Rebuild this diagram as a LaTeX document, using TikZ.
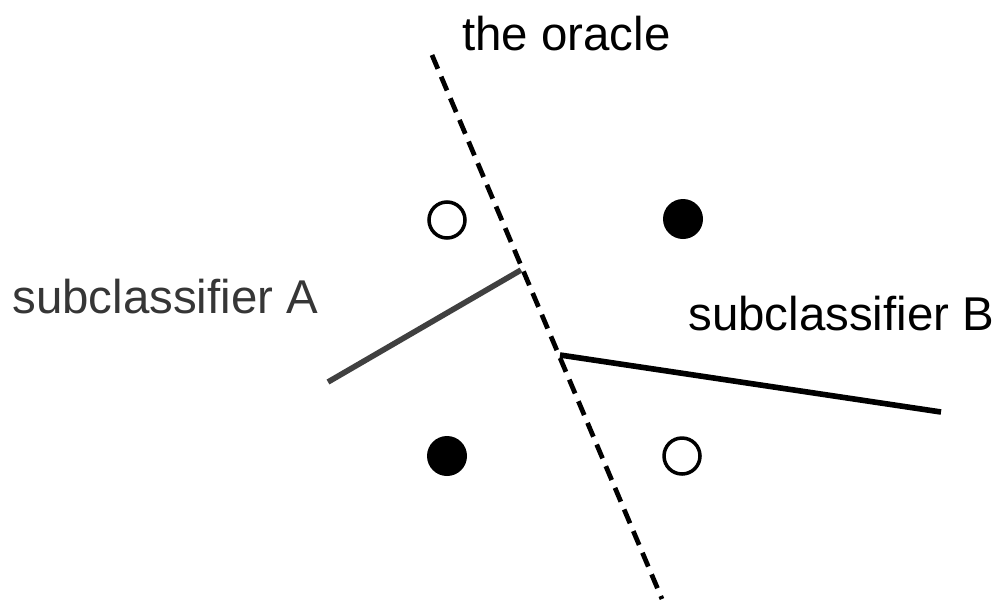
\documentclass[tikz,border=0pt]{standalone}
\usepackage{fontspec}
\setmainfont{Liberation Sans}
\usepackage{tikz}

\definecolor{darkgrey}{HTML}{404040}

\tikzset{
  label text/.style={inner sep=0pt, font=\fontsize{27}{32}\selectfont},
  hollow point/.style={circle, draw, line width=2pt, minimum size=0.72cm, inner sep=0pt},
  solid point/.style={circle, fill, minimum size=0.8cm, inner sep=0pt}
}

\begin{document}
\begin{tikzpicture}[x=0.02cm, y=-0.02cm]
    \useasboundingbox (0,0) rectangle (999,599);
    % the oracle
    \coordinate (oracletop) at (432,55);
    \coordinate (oraclebot) at (662,599);
    \draw[line width=2.7pt, dash pattern=on 0.3cm off 0.17cm] (oracletop) -- (oraclebot);
    \node[label text, anchor=base west] (oracle) at (462,50) {the oracle};
    % subclassifiers
    \coordinate (aend) at (328,382);
    \coordinate (ajoin) at (521,270);
    \draw[darkgrey, line width=3.2pt] (aend) -- (ajoin);
    \node[label text, anchor=base west, text=darkgrey!85!black] (suba) at (12,313) {subclassifier A};
    \coordinate (bjoin) at (560,355);
    \coordinate (bend) at (941,412);
    \draw[line width=3.2pt] (bjoin) -- (bend);
    \node[label text, anchor=base west] (subb) at (688,330) {subclassifier B};
    % data points
    \node[hollow point] (p1) at (447,220) {};
    \node[solid point] (p2) at (683,219) {};
    \node[solid point] (p3) at (447,456) {};
    \node[hollow point] (p4) at (682,456) {};
\end{tikzpicture}
\end{document}
